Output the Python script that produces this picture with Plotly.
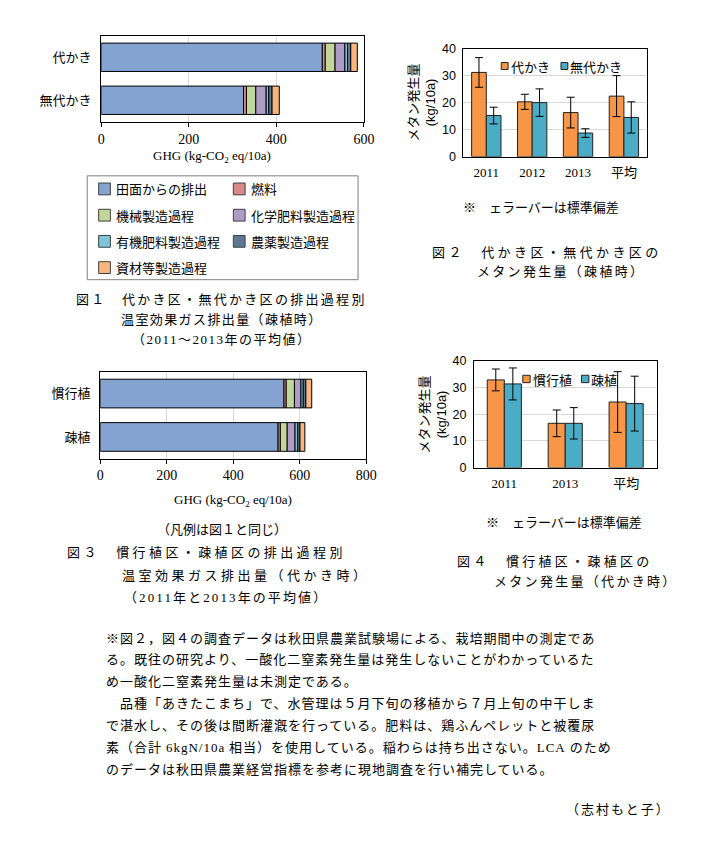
import numpy as np
import plotly.graph_objects as go

W, H = 710, 843
JP = "Noto Sans CJK JP"
SERIF = "Liberation Serif"
SANS = "Liberation Sans"

# ---------------- data ----------------
processes = ["田面からの排出", "燃料", "機械製造過程", "化学肥料製造過程",
             "有機肥料製造過程", "農薬製造過程", "資材等製造過程"]
proc_colors = ["#84A3D1", "#D88A88", "#C2D69B", "#AE9CC6",
               "#7FC4D8", "#5E7894", "#F9B57E"]

# Fig.1 (order: 無代かき, 代かき)
fig1_cats = ["無代かき", "代かき"]
fig1_paddy = [325.0, 505.0]
fig1_fuel = [6.7, 6.7]
fig1_machine = [21.3, 22.4]
fig1_chemfert = [23.8, 22.4]
fig1_orgfert = [6.0, 6.0]
fig1_pesticide = [7.4, 7.4]
fig1_materials = [16.5, 15.0]

# Fig.3 (order: 疎植, 慣行植)
fig3_cats = ["疎植", "慣行植"]
fig3_paddy = [535.0, 552.7]
fig3_fuel = [6.8, 6.8]
fig3_machine = [20.6, 24.7]
fig3_chemfert = [23.6, 19.6]
fig3_orgfert = [8.0, 6.9]
fig3_pesticide = [6.8, 7.8]
fig3_materials = [14.7, 17.7]

# Fig.2
fig2_years = ["2011", "2012", "2013", "平均"]
fig2_shiro = [31.3, 20.4, 16.4, 22.5]
fig2_shiro_sd = [5.5, 2.8, 5.7, 7.6]
fig2_mushiro = [15.3, 20.1, 8.8, 14.6]
fig2_mushiro_sd = [3.1, 5.1, 1.6, 5.8]

# Fig.4
fig4_years = ["2011", "2013", "平均"]
fig4_kanko = [32.9, 16.6, 24.6]
fig4_kanko_sd = [4.1, 5.0, 11.4]
fig4_soshoku = [31.4, 16.6, 24.0]
fig4_soshoku_sd = [6.0, 5.9, 10.3]

ORANGE = "#F79646"
TEAL = "#4BACC6"


def px(x):
    return x / W


def py(y):
    return 1 - y / H


fig = go.Figure()

# ---------------- stacked bars (Fig.1 / Fig.3) ----------------
def add_stack(cats, series, xa, ya):
    base = np.zeros(len(cats))
    for name, vals, col in zip(processes, series, proc_colors):
        vals = np.array(vals)
        fig.add_trace(go.Bar(
            y=cats, x=vals, base=base.copy(), orientation="h", name=name,
            marker=dict(color=col, line=dict(color="black", width=1)),
            width=0.66, offset=-0.33, xaxis=xa, yaxis=ya, showlegend=False))
        base = base + vals


add_stack(fig1_cats, [fig1_paddy, fig1_fuel, fig1_machine, fig1_chemfert,
                      fig1_orgfert, fig1_pesticide, fig1_materials], "x", "y")
add_stack(fig3_cats, [fig3_paddy, fig3_fuel, fig3_machine, fig3_chemfert,
                      fig3_orgfert, fig3_pesticide, fig3_materials], "x3", "y3")

# ---------------- grouped bars (Fig.2 / Fig.4) ----------------
def add_group(cats, vals, sd, name, col, w, off, xa, ya):
    fig.add_trace(go.Bar(
        x=cats, y=vals, name=name, width=w, offset=off,
        marker=dict(color=col, line=dict(color="#222222", width=1)),
        error_y=dict(type="data", array=sd, color="black", thickness=1, width=4),
        xaxis=xa, yaxis=ya, showlegend=False))


add_group(fig2_years, fig2_shiro, fig2_shiro_sd, "代かき", ORANGE, 0.32, -0.32, "x2", "y2")
add_group(fig2_years, fig2_mushiro, fig2_mushiro_sd, "無代かき", TEAL, 0.32, 0.0, "x2", "y2")
add_group(fig4_years, fig4_kanko, fig4_kanko_sd, "慣行植", ORANGE, 0.28, -0.28, "x4", "y4")
add_group(fig4_years, fig4_soshoku, fig4_soshoku_sd, "疎植", TEAL, 0.28, 0.0, "x4", "y4")

# ---------------- axes ----------------
frame = dict(showline=True, linecolor="black", linewidth=1, mirror=True, zeroline=False)

fig.update_layout(
    xaxis=dict(domain=[px(99.3), px(367.7)], anchor="y", range=[0, 600], dtick=200,
               ticks="outside", ticklen=4, tickcolor="black", showgrid=True,
               gridcolor="#D9D9D9", tickfont=dict(family=SERIF, size=14, color="black"),
               **frame),
    yaxis=dict(domain=[py(116.7), py(29.3)], anchor="x", type="category",
               categoryorder="array", categoryarray=fig1_cats, range=[-0.5, 1.5],
               ticks="", showgrid=False, ticklabelstandoff=6,
               tickfont=dict(family=JP, size=13, color="black"), **frame),
    xaxis2=dict(domain=[px(469.3), px(656.7)], anchor="y2", type="category",
                categoryorder="array", categoryarray=fig2_years, range=[-0.5, 3.5],
                ticks="", showgrid=False, ticklabelstandoff=4,
                tickfont=dict(family=SERIF + ", " + JP, size=13, color="black"), **frame),
    yaxis2=dict(domain=[py(152.3), py(42.7)], anchor="x2", range=[0, 40], dtick=10,
                ticks="", showgrid=True, gridcolor="#D9D9D9", ticklabelstandoff=4,
                tickfont=dict(family=SANS, size=12.5, color="black"), **frame),
    xaxis3=dict(domain=[px(98.3), px(370)], anchor="y3", range=[0, 800], dtick=200,
                ticks="outside", ticklen=4, tickcolor="black", showgrid=True,
                gridcolor="#D9D9D9", tickfont=dict(family=SERIF, size=14, color="black"),
                **frame),
    yaxis3=dict(domain=[py(459.3), py(371)], anchor="x3", type="category",
                categoryorder="array", categoryarray=fig3_cats, range=[-0.5, 1.5],
                ticks="", showgrid=False, ticklabelstandoff=6,
                tickfont=dict(family=JP, size=13, color="black"), **frame),
    xaxis4=dict(domain=[px(480), px(666.7)], anchor="y4", type="category",
                categoryorder="array", categoryarray=fig4_years, range=[-0.5, 2.5],
                ticks="", showgrid=False, ticklabelstandoff=4,
                tickfont=dict(family=SERIF + ", " + JP, size=13, color="black"), **frame),
    yaxis4=dict(domain=[py(468.3), py(360)], anchor="x4", range=[0, 40], dtick=10,
                ticks="", showgrid=True, gridcolor="#D9D9D9", ticklabelstandoff=4,
                tickfont=dict(family=SANS, size=12.5, color="black"), **frame),
)

# ---------------- text helpers ----------------
annotations = []
shapes = []


def sp(s, ls):
    return f'<span style="letter-spacing:{ls}px">{s}</span>' if ls else s


def serif(s):
    return f'<span style="font-family:{SERIF}">{s}</span>'


def txt(x, y, s, size=13, family=JP, xanchor="left", ls=0, angle=0, color="black"):
    annotations.append(dict(
        x=px(x), y=py(y), xref="paper", yref="paper", text=sp(s, ls),
        showarrow=False, xanchor=xanchor, yanchor="middle", textangle=angle,
        font=dict(family=family, size=size, color=color), borderpad=0))


def rect(x0, y0, x1, y1, fill, line="#404040", lw=1):
    shapes.append(dict(type="rect", xref="paper", yref="paper",
                       x0=px(x0), x1=px(x1), y0=py(y1), y1=py(y0),
                       fillcolor=fill, line=dict(color=line, width=lw)))


# axis titles
ghg = "GHG (kg-CO<sub>2</sub> eq/10a)"
txt(212.5, 152, ghg, size=13, family=SERIF, xanchor="center")
txt(234, 501.7, ghg, size=13, family=SERIF, xanchor="center")
ytitle = f'メタン発生量<br><span style="font-family:{SANS}">(kg/10a)</span>'
txt(425, 97, ytitle, size=13, xanchor="center", angle=-90)
txt(436.5, 414, ytitle, size=13, xanchor="center", angle=-90)

# Fig.1 legend box
rect(85, 171.7, 361.7, 277.3, "rgba(0,0,0,0)", line="#7F7F7F")
leg_pos = [(96.7, 185), (234.3, 185), (96.7, 211.7), (234.3, 211.7),
           (96.7, 238.3), (234.3, 238.3), (96.7, 265)]
for (lx, ly), name, col in zip(leg_pos, processes, proc_colors):
    rect(lx, ly - 6, lx + 12, ly + 6, col)
    txt(lx + 17, ly, name, size=13)

# Fig.2 legend
rect(508, 56.5, 515, 63.5, ORANGE, line="#222222")
txt(517, 60, "代かき", size=13)
rect(569, 56.5, 576, 63.5, TEAL, line="#222222")
txt(577, 60, "無代かき", size=13)

# Fig.4 legend
rect(530, 374.5, 537.5, 382, ORANGE, line="#222222")
txt(539, 378.3, "慣行植", size=13)
rect(590, 374.5, 597.5, 382, TEAL, line="#222222")
txt(599, 378.3, "疎植", size=13)

# notes
txt(468, 203.3, "※　ェラーバーは標準偏差", size=13)
txt(491.7, 522.7, "※　ェラーバーは標準偏差", size=13)
txt(155, 530, "（凡例は図１と同じ）", size=13)

# captions
txt(73, 296.7, "図１　代かき区・無代かき区の排出過程別", size=13, ls=2.3)
txt(118.3, 316.7, "温室効果ガス排出量（疎植時）", size=13, ls=1.4)
txt(130, 336.7, "（" + serif("2011") + "～" + serif("2013") + "年の平均値）", size=13, ls=1.5)

txt(436.7, 248.3, "図２　代かき区・無代かき区の", size=13, ls=3.4)
txt(481.7, 268.3, "メタン発生量（疎植時）", size=13, ls=2.3)

txt(63.3, 553.3, "図３　慣行植区・疎植区の排出過程別", size=13, ls=3.4)
txt(119.3, 577.3, "温室効果ガス排出量（代かき時）", size=13, ls=3.5)
txt(121.7, 599.3, "（" + serif("2011") + "年と" + serif("2013") + "年の平均値）", size=13, ls=2.1)

txt(461.7, 563.3, "図４　慣行植区・疎植区の", size=13, ls=3.3)
txt(500, 583.3, "メタン発生量（代かき時）", size=13, ls=2.3)

# body text
body = [
    "※図２，図４の調査データは秋田県農業試験場による、栽培期間中の測定であ",
    "る。既往の研究より、一酸化二窒素発生量は発生しないことがわかっているた",
    "め一酸化二窒素発生量は未測定である。",
    "　品種「あきたこまち」で、水管理は５月下旬の移植から７月上旬の中干しま",
    "で湛水し、その後は間断灌漑を行っている。肥料は、鶏ふんペレットと被覆尿",
    "素（合計 " + serif("6kgN/10a") + " 相当）を使用している。稲わらは持ち出さない。" + serif("LCA") + " のため",
    "のデータは秋田県農業経営指標を参考に現地調査を行い補完している。",
]
for i, line in enumerate(body):
    txt(103, 640.7 + 22.2 * i, line, size=13, ls=1)

txt(573.3, 815, "（志村もと子）", size=13, ls=2)

fig.update_layout(
    width=W, height=H, margin=dict(l=0, r=0, t=0, b=0),
    paper_bgcolor="white", plot_bgcolor="white",
    barmode="overlay", showlegend=False,
    font=dict(family=JP, size=13, color="black"),
    annotations=annotations, shapes=shapes,
)

fig.write_html("out.html",
               post_script="document.body.style.margin='0';document.body.style.padding='0';")
